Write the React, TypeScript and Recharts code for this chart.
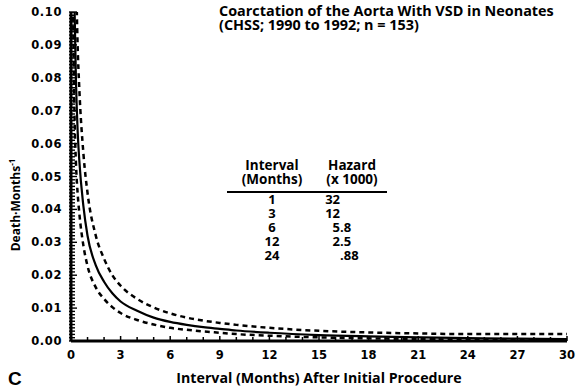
import React from "react";
import { LineChart, Line, XAxis, YAxis } from "recharts";

// months after the initial procedure, and hazard (deaths per month)
const months = [
  0.1, 0.15, 0.2, 0.3, 0.4, 0.5, 0.75, 1, 1.5, 2, 2.5, 3, 4, 5, 6, 7, 8, 9, 10,
  12, 15, 18, 21, 24, 27, 30,
];
const hazard = [
  0.16, 0.125, 0.105, 0.079, 0.064, 0.055, 0.041, 0.032, 0.023, 0.018, 0.0145,
  0.012, 0.0092, 0.0071, 0.0058, 0.0049, 0.0042, 0.0037, 0.0032, 0.0025, 0.0018,
  0.0014, 0.0011, 0.00088, 0.00072, 0.0006,
];
const upperCL = [
  0.21, 0.17, 0.15, 0.114, 0.09, 0.077, 0.057, 0.045, 0.032, 0.025, 0.02,
  0.0168, 0.0128, 0.0102, 0.0084, 0.0071, 0.0062, 0.0055, 0.0049, 0.004, 0.0031,
  0.0026, 0.0023, 0.0021, 0.0021, 0.0021,
];
const lowerCL = [
  0.115, 0.09, 0.072, 0.054, 0.045, 0.039, 0.029, 0.0228, 0.0163, 0.0128,
  0.0103, 0.0085, 0.0064, 0.005, 0.004, 0.0034, 0.0029, 0.0025, 0.0021, 0.0016,
  0.0011, 0.0008, 0.0006, 0.0004, 0.0003, 0.00025,
];

const xTickLabels = [0, 3, 6, 9, 12, 15, 18, 21, 24, 27, 30];
const yTickLabels = [0, 0.01, 0.02, 0.03, 0.04, 0.05, 0.06, 0.07, 0.08, 0.09, 0.1];

const tableIntervals = ["1", "3", "6", "12", "24"];
const tableHazards = ["32", "12", "5.8", "2.5", ".88"];

// minor tick positions (every month / every 0.001)
const xMinorTicks = Array.from({ length: 31 }, (_, i) => i);
const yMinorTicks = Array.from({ length: 101 }, (_, i) => i / 1000);

const chartData = months.map((m, i) => ({
  month: m,
  hazard: hazard[i],
  upper: upperCL[i],
  lower: lowerCL[i],
}));

const tickFont = "'DejaVu Sans', sans-serif";
const textFont = "'Open Sans', sans-serif";

const XTick = (props: any) => {
  const { x, y, payload } = props;
  const v = payload.value;
  const major = xTickLabels.includes(v);
  return (
    <g>
      <line x1={x} x2={x} y1={y} y2={y - (major ? 5 : 4)} stroke="#000" strokeWidth={1.5} />
      {major && (
        <text
          x={x}
          y={y + 18}
          textAnchor="middle"
          fontFamily={tickFont}
          fontWeight={700}
          fontSize={11.5}
          fill="#000"
        >
          {v}
        </text>
      )}
    </g>
  );
};

const YTick = (props: any) => {
  const { x, y, payload } = props;
  const milli = Math.round(payload.value * 1000);
  const major = yTickLabels.some((t) => Math.round(t * 1000) === milli);
  return (
    <g>
      <line x1={x - 2} x2={x + (major ? 6 : 4)} y1={y} y2={y} stroke="#000" strokeWidth={1.4} />
      {major && (
        <text
          x={x - 9}
          y={y + 4}
          textAnchor="end"
          fontFamily={tickFont}
          fontWeight={700}
          fontSize={11.5}
          letterSpacing={0.6}
          fill="#000"
        >
          {(milli / 1000).toFixed(2)}
        </text>
      )}
    </g>
  );
};

export default function App() {
  const rowY = [204, 218, 232, 246, 260];
  return (
    <div style={{ position: "absolute", left: 0, top: 0, width: 580, height: 391, background: "#fff" }}>
      <LineChart
        width={580}
        height={391}
        data={chartData}
        margin={{ top: 12, right: 13, bottom: 0, left: 0 }}
      >
        <XAxis
          dataKey="month"
          type="number"
          domain={[0, 30]}
          ticks={xMinorTicks}
          interval={0}
          height={50}
          tickSize={0}
          tickMargin={0}
          tickLine={false}
          axisLine={{ stroke: "#000", strokeWidth: 3 }}
          tick={(p: any) => <XTick {...p} />}
        />
        <YAxis
          type="number"
          domain={[0, 0.1]}
          allowDataOverflow
          ticks={yMinorTicks}
          interval={0}
          width={71}
          tickSize={0}
          tickMargin={0}
          tickLine={false}
          axisLine={{ stroke: "#000", strokeWidth: 3 }}
          tick={(p: any) => <YTick {...p} />}
        />
        <Line
          type="monotone"
          dataKey="upper"
          stroke="#000"
          strokeWidth={2.5}
          strokeDasharray="5 4"
          dot={false}
          isAnimationActive={false}
        />
        <Line
          type="monotone"
          dataKey="lower"
          stroke="#000"
          strokeWidth={2.5}
          strokeDasharray="5 4"
          dot={false}
          isAnimationActive={false}
        />
        <Line
          type="monotone"
          dataKey="hazard"
          stroke="#000"
          strokeWidth={2.2}
          dot={false}
          isAnimationActive={false}
        />
      </LineChart>
      <svg
        width={580}
        height={391}
        style={{ position: "absolute", left: 0, top: 0, pointerEvents: "none" }}
      >
        <g fontFamily={textFont} fontWeight={700} fill="#000">
          <text fontSize={14.4}>
            <tspan x={219} y={16}>Coarctation of the Aorta With VSD in Neonates</tspan>
            <tspan x={219} y={30}>(CHSS; 1990 to 1992; n = 153)</tspan>
          </text>

          <text fontSize={13.5} textAnchor="middle">
            <tspan x={272} y={170}>Interval</tspan>
            <tspan x={272} y={184}>(Months)</tspan>
          </text>
          <text fontSize={13.5} textAnchor="middle">
            <tspan x={352} y={170}>Hazard</tspan>
            <tspan x={352} y={184}>(x 1000)</tspan>
          </text>
          <line x1={227} x2={387} y1={192} y2={192} stroke="#000" strokeWidth={1.8} />
          <text fontSize={13} textAnchor="middle">
            {tableIntervals.map((iv, i) => (
              <tspan key={"iv" + i} x={272} y={rowY[i]}>
                {iv}
              </tspan>
            ))}
          </text>
          <text fontSize={13}>
            {tableHazards.map((hz, i) => {
              const dot = hz.indexOf(".");
              const intPart = dot < 0 ? hz : hz.slice(0, dot);
              const fracPart = dot < 0 ? "" : hz.slice(dot);
              return (
                <React.Fragment key={"hz" + i}>
                  {intPart && (
                    <tspan x={340} y={rowY[i]} textAnchor="end">{intPart}</tspan>
                  )}
                  {fracPart && (
                    <tspan x={340} y={rowY[i]} textAnchor="start">{fracPart}</tspan>
                  )}
                </React.Fragment>
              );
            })}
          </text>

          <text x={319} y={383} fontSize={14.2} textAnchor="middle">
            Interval (Months) After Initial Procedure
          </text>
          <text x={0} y={0} fontSize={12} textAnchor="middle" transform="translate(20 205) rotate(-90)">
            Death·Months
            <tspan dy={-5} fontSize={8}>-1</tspan>
          </text>
        </g>
        <text x={8} y={385} fontFamily="'Liberation Sans', sans-serif" fontWeight={700} fontSize={19} fill="#000">
          C
        </text>
      </svg>
    </div>
  );
}
